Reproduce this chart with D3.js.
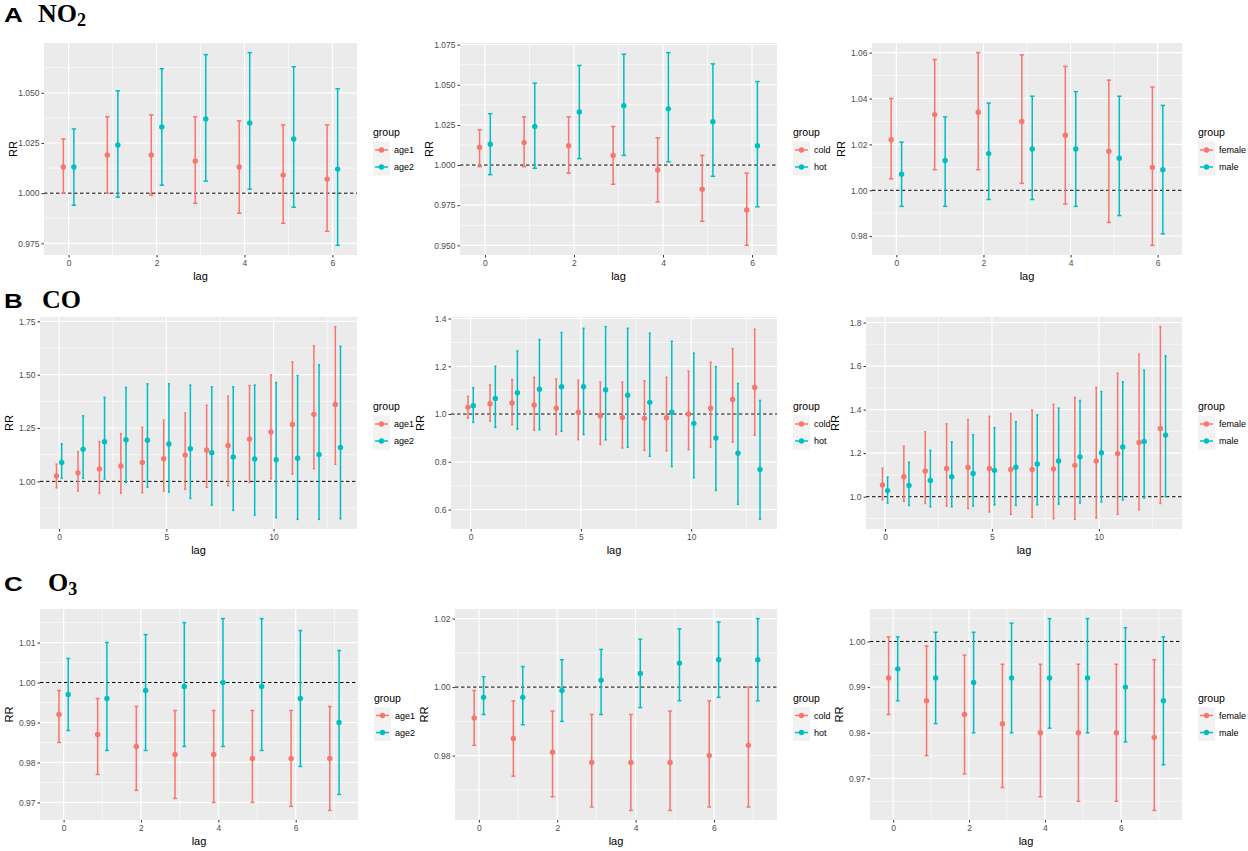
<!DOCTYPE html>
<html>
<head>
<meta charset="utf-8">
<script src="https://cdn.jsdelivr.net/npm/d3@7/dist/d3.min.js"></script>
<style>
body { margin: 0; background: #fff; }
svg { display: block; }
</style>
</head>
<body>
<svg id="fig" width="1248" height="851"></svg>
<script>
// lags on the x axis
var lagsNO2 = [0, 1, 2, 3, 4, 5, 6];
var lagsCO = [0, 1, 2, 3, 4, 5, 6, 7, 8, 9, 10, 11, 12, 13];
var lagsO3 = [0, 1, 2, 3, 4, 5, 6, 7];

var groupsAge = ["age1", "age2"];
var groupsSeason = ["cold", "hot"];
var groupsSex = ["female", "male"];

// each row: [RR, lower CI, upper CI]
var no2Age1 = [[1.013,1.000,1.027],[1.019,1.000,1.038],[1.019,0.999,1.039],[1.016,0.995,1.038],[1.013,0.990,1.036],[1.009,0.985,1.034],[1.007,0.981,1.034]];
var no2Age2 = [[1.013,0.994,1.032],[1.024,0.998,1.051],[1.033,1.004,1.062],[1.037,1.006,1.069],[1.035,1.002,1.070],[1.027,0.993,1.063],[1.012,0.974,1.052]];
var no2Cold = [[1.011,0.999,1.022],[1.014,0.999,1.030],[1.012,0.995,1.030],[1.006,0.988,1.024],[0.997,0.977,1.017],[0.985,0.965,1.006],[0.972,0.950,0.995]];
var no2Hot = [[1.013,0.994,1.032],[1.024,0.998,1.051],[1.033,1.004,1.062],[1.037,1.006,1.069],[1.035,1.002,1.070],[1.027,0.993,1.063],[1.012,0.974,1.052]];
var no2Female = [[1.022,1.005,1.040],[1.033,1.009,1.057],[1.034,1.009,1.060],[1.030,1.003,1.059],[1.024,0.994,1.054],[1.017,0.986,1.048],[1.010,0.976,1.045]];
var no2Male = [[1.007,0.993,1.021],[1.013,0.993,1.032],[1.016,0.996,1.038],[1.018,0.996,1.041],[1.018,0.993,1.043],[1.014,0.989,1.041],[1.009,0.981,1.037]];

var coAge1 = [[1.025,0.970,1.081],[1.040,0.955,1.139],[1.058,0.944,1.187],[1.072,0.944,1.223],[1.089,0.947,1.254],[1.106,0.955,1.287],[1.123,0.963,1.320],[1.147,0.972,1.357],[1.168,0.980,1.399],[1.198,0.995,1.449],[1.231,1.012,1.499],[1.267,1.034,1.560],[1.314,1.059,1.636],[1.360,1.080,1.725]];
var coAge2 = [[1.089,1.014,1.176],[1.150,1.014,1.307],[1.186,1.011,1.394],[1.195,0.995,1.440],[1.193,0.973,1.457],[1.175,0.950,1.457],[1.153,0.920,1.451],[1.134,0.889,1.443],[1.114,0.864,1.443],[1.105,0.842,1.451],[1.101,0.830,1.463],[1.108,0.822,1.496],[1.126,0.822,1.546],[1.159,0.825,1.633]];
var coCold = [[1.028,0.983,1.074],[1.043,0.971,1.122],[1.046,0.955,1.145],[1.038,0.932,1.154],[1.024,0.914,1.147],[1.008,0.893,1.142],[0.993,0.873,1.134],[0.986,0.858,1.134],[0.982,0.848,1.139],[0.985,0.846,1.154],[1.000,0.851,1.179],[1.024,0.862,1.217],[1.061,0.882,1.274],[1.111,0.911,1.355]];
var coHot = [[1.035,0.965,1.110],[1.065,0.944,1.200],[1.089,0.937,1.264],[1.104,0.935,1.312],[1.114,0.928,1.341],[1.114,0.914,1.359],[1.102,0.892,1.366],[1.079,0.861,1.359],[1.049,0.823,1.338],[1.008,0.780,1.305],[0.961,0.733,1.255],[0.900,0.680,1.198],[0.836,0.622,1.128],[0.768,0.559,1.057]];
var coFemale = [[1.054,0.986,1.131],[1.092,0.979,1.232],[1.118,0.969,1.298],[1.130,0.957,1.335],[1.134,0.946,1.355],[1.130,0.930,1.369],[1.125,0.919,1.382],[1.125,0.905,1.398],[1.128,0.899,1.424],[1.144,0.896,1.456],[1.164,0.902,1.502],[1.198,0.919,1.567],[1.249,0.940,1.654],[1.313,0.969,1.781]];
var coMale = [[1.028,0.971,1.090],[1.052,0.960,1.158],[1.075,0.954,1.213],[1.092,0.954,1.252],[1.107,0.957,1.284],[1.121,0.962,1.317],[1.135,0.960,1.344],[1.150,0.963,1.376],[1.164,0.966,1.407],[1.183,0.971,1.442],[1.202,0.976,1.483],[1.228,0.985,1.528],[1.254,0.994,1.581],[1.283,1.000,1.647]];

var o3Age1 = [[0.992,0.985,0.998],[0.987,0.977,0.996],[0.984,0.973,0.994],[0.982,0.971,0.993],[0.982,0.970,0.993],[0.981,0.970,0.993],[0.981,0.969,0.993],[0.981,0.968,0.994]];
var o3Age2 = [[0.997,0.988,1.006],[0.996,0.983,1.010],[0.998,0.983,1.012],[0.999,0.984,1.015],[1.000,0.984,1.016],[0.999,0.983,1.016],[0.996,0.979,1.013],[0.990,0.972,1.008]];
var o3Cold = [[0.991,0.983,0.999],[0.985,0.974,0.996],[0.981,0.968,0.993],[0.978,0.965,0.992],[0.978,0.964,0.992],[0.978,0.964,0.993],[0.980,0.965,0.996],[0.983,0.965,1.000]];
var o3Hot = [[0.997,0.992,1.003],[0.997,0.989,1.006],[0.999,0.990,1.008],[1.002,0.992,1.011],[1.004,0.994,1.014],[1.007,0.996,1.017],[1.008,0.997,1.019],[1.008,0.996,1.020]];
var o3Female = [[0.992,0.984,1.001],[0.987,0.975,0.999],[0.984,0.971,0.997],[0.982,0.968,0.995],[0.980,0.966,0.995],[0.980,0.965,0.995],[0.980,0.965,0.995],[0.979,0.963,0.996]];
var o3Male = [[0.994,0.987,1.001],[0.992,0.982,1.002],[0.991,0.980,1.002],[0.992,0.980,1.004],[0.992,0.981,1.005],[0.992,0.980,1.005],[0.990,0.978,1.003],[0.987,0.973,1.001]];

// tick labels
var xTicksNO2 = [0, 2, 4, 6];
var xTicksCO = [0, 5, 10];
var xTicksO3 = [0, 2, 4, 6];
var yTicksNO2Age = [0.975, 1.000, 1.025, 1.050];
var yTicksNO2Season = [0.950, 0.975, 1.000, 1.025, 1.050, 1.075];
var yTicksNO2Sex = [0.98, 1.00, 1.02, 1.04, 1.06];
var yTicksCOAge = [1.00, 1.25, 1.50, 1.75];
var yTicksCOSeason = [0.6, 0.8, 1.0, 1.2, 1.4];
var yTicksCOSex = [1.0, 1.2, 1.4, 1.6, 1.8];
var yTicksO3Age = [0.97, 0.98, 0.99, 1.00, 1.01];
var yTicksO3Season = [0.98, 1.00, 1.02];
var yTicksO3Sex = [0.97, 0.98, 0.99, 1.00];

var colors = ["#F8766D", "#00BFC4"];
var svg = d3.select("#fig");
var sans = "'Liberation Sans', Arial, sans-serif";

function drawPanel(p) {
  var g = svg.append("g");
  var b = p.box;
  var all = [];
  p.series.forEach(function(s) { s.forEach(function(d) { all.push(d[1], d[2]); }); });
  var ext = d3.extent(all), pad = (ext[1] - ext[0]) * 0.05;
  var y = d3.scaleLinear().domain([ext[0] - pad, ext[1] + pad]).range([b[3], b[1]]);
  var x = d3.scaleLinear().domain(p.xDomain).range([b[0], b[2]]);

  g.append("rect").attr("x", b[0]).attr("y", b[1])
    .attr("width", b[2] - b[0]).attr("height", b[3] - b[1]).attr("fill", "#EBEBEB");

  function minors(t, dom) {
    var step = t[1] - t[0], out = [];
    for (var i = -1; i < t.length; i++) {
      var v = t[0] + step * (i + 0.5);
      if (v > dom[0] && v < dom[1]) out.push(v);
    }
    return out;
  }
  var yd = y.domain(), xd = x.domain();

  g.selectAll(".ymin").data(minors(p.yTicks, yd)).enter().append("line")
    .attr("x1", b[0]).attr("x2", b[2]).attr("y1", y).attr("y2", y)
    .attr("stroke", "#fff").attr("stroke-width", 0.6);
  g.selectAll(".xmin").data(minors(p.xTicks, xd)).enter().append("line")
    .attr("y1", b[1]).attr("y2", b[3]).attr("x1", x).attr("x2", x)
    .attr("stroke", "#fff").attr("stroke-width", 0.6);
  g.selectAll(".ymaj").data(p.yTicks).enter().append("line")
    .attr("x1", b[0]).attr("x2", b[2]).attr("y1", y).attr("y2", y)
    .attr("stroke", "#fff").attr("stroke-width", 1.2);
  g.selectAll(".xmaj").data(p.xTicks).enter().append("line")
    .attr("y1", b[1]).attr("y2", b[3]).attr("x1", x).attr("x2", x)
    .attr("stroke", "#fff").attr("stroke-width", 1.2);

  // reference line at RR = 1
  g.append("line").attr("x1", b[0]).attr("x2", b[2])
    .attr("y1", y(1)).attr("y2", y(1))
    .attr("stroke", "#000").attr("stroke-width", 1).attr("stroke-dasharray", "3.5,2.5");

  p.series.forEach(function(s, i) {
    var off = i == 0 ? -0.12 : 0.12;
    var col = colors[i];
    var sg = g.append("g");
    var rows = s.map(function(d, k) { return { lag: p.lags[k] + off, est: d[0], lo: d[1], hi: d[2] }; });
    sg.selectAll(".bar").data(rows).enter().append("line")
      .attr("x1", function(d) { return x(d.lag); }).attr("x2", function(d) { return x(d.lag); })
      .attr("y1", function(d) { return y(d.lo); }).attr("y2", function(d) { return y(d.hi); })
      .attr("stroke", col).attr("stroke-width", 1.5);
    ["lo", "hi"].forEach(function(k) {
      sg.selectAll(".cap" + k).data(rows).enter().append("line")
        .attr("x1", function(d) { return x(d.lag - 0.05); }).attr("x2", function(d) { return x(d.lag + 0.05); })
        .attr("y1", function(d) { return y(d[k]); }).attr("y2", function(d) { return y(d[k]); })
        .attr("stroke", col).attr("stroke-width", 1.5);
    });
    sg.selectAll("circle").data(rows).enter().append("circle")
      .attr("cx", function(d) { return x(d.lag); }).attr("cy", function(d) { return y(d.est); })
      .attr("r", 2.7).attr("fill", col);
  });

  // axes
  var ya = g.append("g").attr("transform", "translate(" + b[0] + ",0)")
    .call(d3.axisLeft(y).tickValues(p.yTicks).tickFormat(d3.format(p.fmt)).tickSize(2.5).tickPadding(2));
  var xa = g.append("g").attr("transform", "translate(0," + b[3] + ")")
    .call(d3.axisBottom(x).tickValues(p.xTicks).tickFormat(d3.format("d")).tickSize(2.5).tickPadding(2));
  [ya, xa].forEach(function(a) {
    a.select(".domain").remove();
    a.selectAll(".tick line").attr("stroke", "#333");
    a.selectAll(".tick text").attr("fill", "#4D4D4D").style("font-family", sans).style("font-size", "8.5px");
  });

  g.append("text").attr("transform", "translate(" + (b[0] - 31) + "," + ((b[1] + b[3]) / 2) + ") rotate(-90)")
    .attr("text-anchor", "middle").attr("dy", "0.35em")
    .style("font-family", sans).style("font-size", "11px").text("RR");
  g.append("text").attr("x", (b[0] + b[2]) / 2).attr("y", b[3] + 25)
    .attr("text-anchor", "middle")
    .style("font-family", sans).style("font-size", "11px").text("lag");

  // legend
  var lx = b[2] + 16, cy = (b[1] + b[3]) / 2;
  var lg = g.append("g");
  lg.append("text").attr("x", lx).attr("y", cy - 13)
    .style("font-family", sans).style("font-size", "10.5px").text("group");
  p.groups.forEach(function(name, i) {
    var ky = cy + 1 + i * 17;
    lg.append("rect").attr("x", lx).attr("y", ky - 8.5).attr("width", 17).attr("height", 17).attr("fill", "#F2F2F2");
    lg.append("line").attr("x1", lx + 2).attr("x2", lx + 15).attr("y1", ky).attr("y2", ky)
      .attr("stroke", colors[i]).attr("stroke-width", 1.5);
    lg.append("circle").attr("cx", lx + 8.5).attr("cy", ky).attr("r", 2.7).attr("fill", colors[i]);
    lg.append("text").attr("x", lx + 21).attr("y", ky).attr("dy", "0.35em")
      .style("font-family", sans).style("font-size", "9px").text(name);
  });
}

function rowTitle(letter, chem, sub, ty, chemX) {
  svg.append("text").attr("transform", "translate(4," + ty + ") scale(1.3,1)")
    .style("font-family", sans).style("font-weight", "bold").style("font-size", "20px").text(letter);
  var t = svg.append("text").attr("x", chemX).attr("y", ty)
    .style("font-family", "'Liberation Serif', 'Times New Roman', serif").style("font-weight", "bold").style("font-size", "26px");
  t.append("tspan").text(chem);
  if (sub) t.append("tspan").attr("dy", 4).style("font-size", "18px").text(sub);
}

rowTitle("A", "NO", "2", 22, 38);
rowTitle("B", "CO", null, 308, 42);
rowTitle("C", "O", "3", 591, 48);

var domNO2 = [-0.56, 6.56], domCO = [-0.89, 13.89], domO3 = [-0.61, 7.61];

var panels = [
  { box: [44, 43, 357, 255], lags: lagsNO2, xDomain: domNO2, xTicks: xTicksNO2, yTicks: yTicksNO2Age, fmt: ".3f", groups: groupsAge, series: [no2Age1, no2Age2] },
  { box: [460, 43, 777, 255], lags: lagsNO2, xDomain: domNO2, xTicks: xTicksNO2, yTicks: yTicksNO2Season, fmt: ".3f", groups: groupsSeason, series: [no2Cold, no2Hot] },
  { box: [872, 43, 1182, 255], lags: lagsNO2, xDomain: domNO2, xTicks: xTicksNO2, yTicks: yTicksNO2Sex, fmt: ".2f", groups: groupsSex, series: [no2Female, no2Male] },
  { box: [40, 317, 357, 529], lags: lagsCO, xDomain: domCO, xTicks: xTicksCO, yTicks: yTicksCOAge, fmt: ".2f", groups: groupsAge, series: [coAge1, coAge2] },
  { box: [451, 317, 777, 529], lags: lagsCO, xDomain: domCO, xTicks: xTicksCO, yTicks: yTicksCOSeason, fmt: ".1f", groups: groupsSeason, series: [coCold, coHot] },
  { box: [866, 317, 1182, 529], lags: lagsCO, xDomain: domCO, xTicks: xTicksCO, yTicks: yTicksCOSex, fmt: ".1f", groups: groupsSex, series: [coFemale, coMale] },
  { box: [40, 609, 358, 820], lags: lagsO3, xDomain: domO3, xTicks: xTicksO3, yTicks: yTicksO3Age, fmt: ".2f", groups: groupsAge, series: [o3Age1, o3Age2] },
  { box: [455, 609, 777, 820], lags: lagsO3, xDomain: domO3, xTicks: xTicksO3, yTicks: yTicksO3Season, fmt: ".2f", groups: groupsSeason, series: [o3Cold, o3Hot] },
  { box: [870, 609, 1182, 820], lags: lagsO3, xDomain: domO3, xTicks: xTicksO3, yTicks: yTicksO3Sex, fmt: ".2f", groups: groupsSex, series: [o3Female, o3Male] }
];
panels.forEach(drawPanel);
</script>
</body>
</html>
